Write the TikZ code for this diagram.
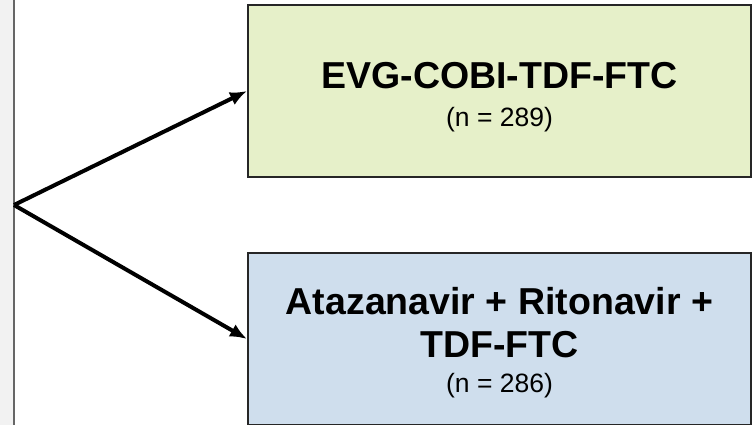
\documentclass[tikz,border=0pt]{standalone}
\usepackage{fontspec}
\setmainfont{Liberation Sans}
\usetikzlibrary{arrows.meta}
\definecolor{armgreen}{HTML}{E6F0C9}
\definecolor{armblue}{HTML}{CFDEED}
\definecolor{stripgray}{HTML}{F2F2F2}
\begin{document}
\begin{tikzpicture}[>={Latex[length=17pt,width=14pt]},x=1pt,y=-1pt,
  arm/.style={draw=black!85,line width=2pt,minimum width=503pt,minimum height=172pt,
    inner sep=0pt},
  armtext/.style={align=center,inner sep=0pt,font=\fontsize{37.5}{43}\selectfont\bfseries}]
\useasboundingbox (0,0) rectangle (752,424);
\fill[stripgray] (-20,-20) rectangle (14,444);
\draw[black!60,line width=1.5pt] (14,-20) -- (14,444);
\coordinate (split) at (14,205);

\node[arm,fill=armgreen] (evg) at (499.5,91) {};
\node[arm,fill=armblue] (atv) at (499.5,339) {};
\node[armtext] (evgtext) at ([yshift=-6pt]evg.center)
  {EVG-COBI-TDF-FTC\\[-5pt]{\fontsize{26.5}{30}\selectfont\mdseries (n = 289)}};
\node[armtext] (atvtext) at ([yshift=-4pt]atv.center)
  {Atazanavir + Ritonavir +\\TDF-FTC\\[-8pt]{\fontsize{26.5}{30}\selectfont\mdseries (n = 286)}};

\draw[->,line width=4pt] (split) -- (evg.west);
\draw[->,line width=4pt] (split) -- (atv.west);

\end{tikzpicture}
\end{document}
